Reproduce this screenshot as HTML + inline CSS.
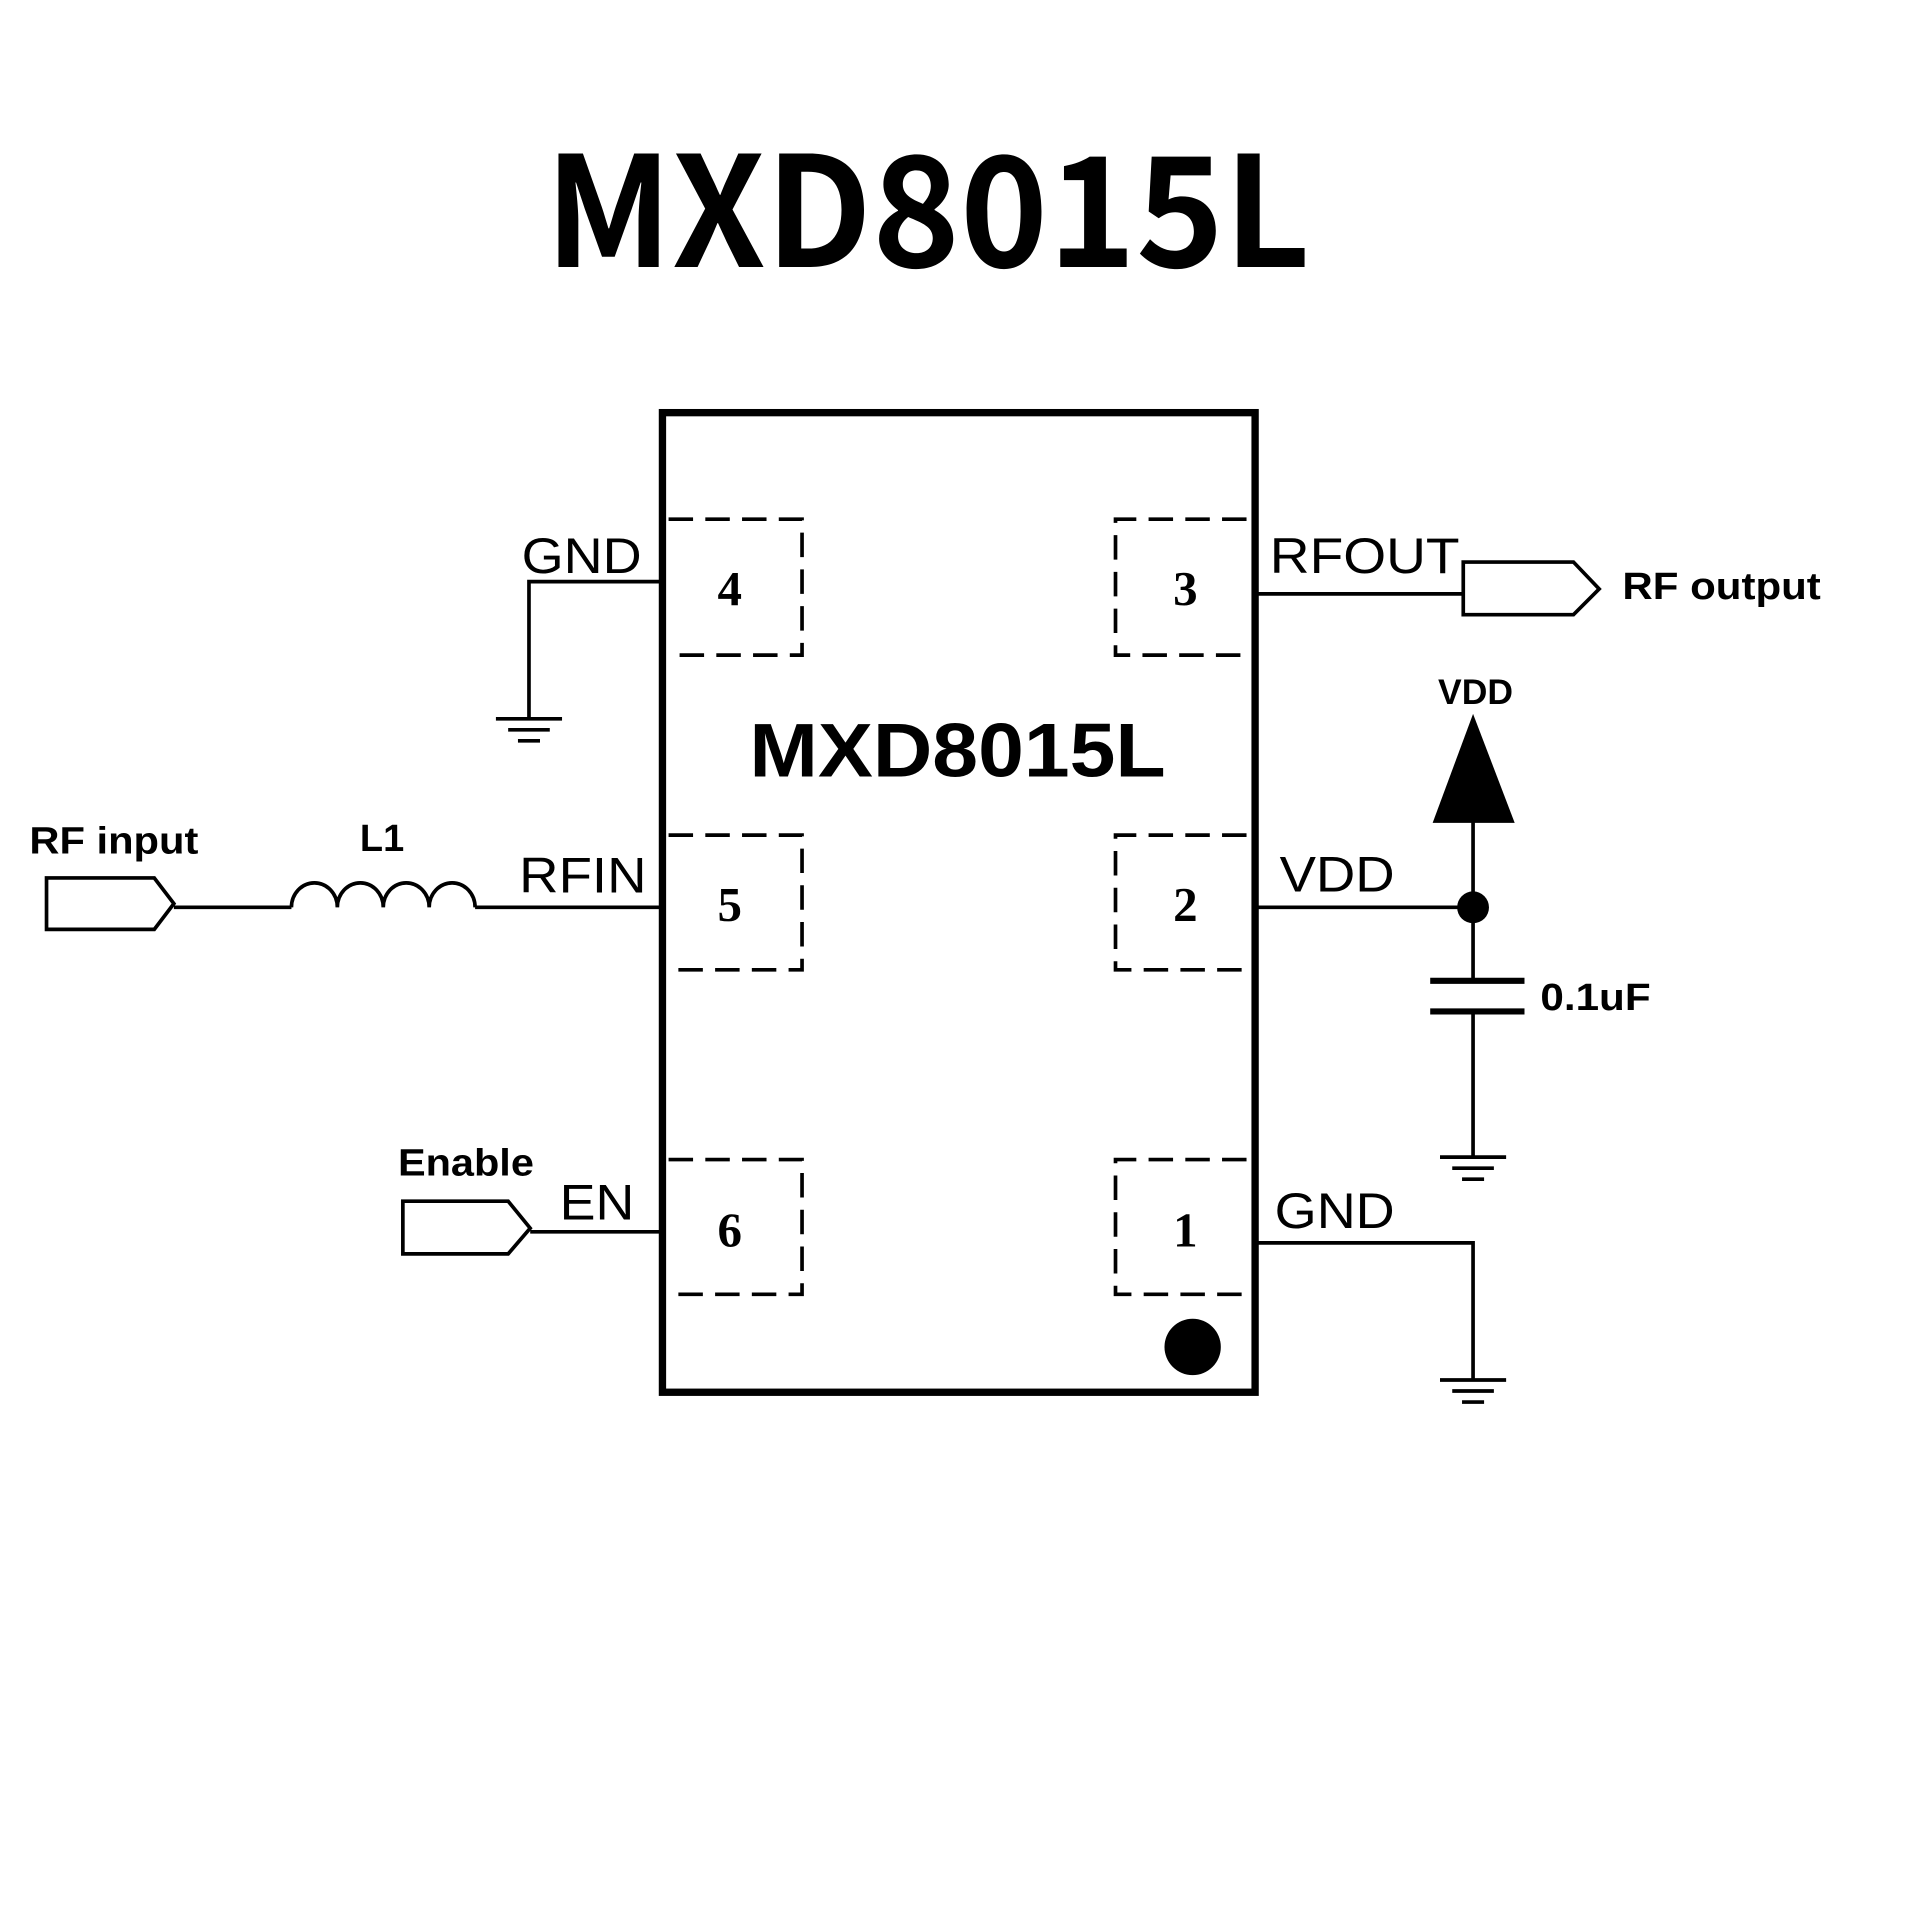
<!DOCTYPE html>
<html><head><meta charset="utf-8"><style>
html,body{margin:0;padding:0;background:#fff;}
svg{display:block;}
text{font-family:"Liberation Sans",Arial,sans-serif;fill:#000;}
</style></head><body>
<svg width="1920" height="1920" viewBox="0 0 1568 1568" xmlns="http://www.w3.org/2000/svg">
<rect width="1568" height="1568" fill="#fff"/>
<text x="445" y="218" font-size="125" font-weight="bold" textLength="625" lengthAdjust="spacingAndGlyphs" style="font-family:'Noto Sans CJK SC','Liberation Sans',sans-serif">MXD8015L</text>
<rect x="541" y="337" width="484" height="800" fill="none" stroke="#000" stroke-width="6"/>
<g fill="none" stroke="#000" stroke-width="3" stroke-dasharray="20,10">
<path d="M546 424H655V535H546"/>
<path d="M546 682H655V792H546"/>
<path d="M546 947H655V1057H546"/>
<path d="M1018 424H911V535H1018"/>
<path d="M1018 682H911V792H1018"/>
<path d="M1018 947H911V1057H1018"/>
</g>
<g font-size="40" font-weight="bold" text-anchor="middle">
<text x="596" y="494" style="font-family:'Liberation Serif',serif">4</text>
<text x="596" y="752" style="font-family:'Liberation Serif',serif">5</text>
<text x="596" y="1018" style="font-family:'Liberation Serif',serif">6</text>
<text x="968" y="494" style="font-family:'Liberation Serif',serif">3</text>
<text x="968" y="752" style="font-family:'Liberation Serif',serif">2</text>
<text x="968" y="1018" style="font-family:'Liberation Serif',serif">1</text>
</g>
<text x="612" y="634" font-size="62" font-weight="bold" textLength="340" lengthAdjust="spacingAndGlyphs">MXD8015L</text>
<circle cx="974" cy="1100" r="23" fill="#000"/>
<g fill="none" stroke="#000" stroke-width="3">
<path d="M541 475H432V587"/>
<path d="M405 587H459M415 596H449M423 605H441"/>
<path d="M142 741H238"/>
<path d="M238 741 a18.75 20 0 0 1 37.5 0 a18.75 20 0 0 1 37.5 0 a18.75 20 0 0 1 37.5 0 a18.75 20 0 0 1 37.5 0"/>
<path d="M388 741H541"/>
<polygon points="38,717 126,717 142,738 126,759 38,759"/>
<polygon points="329,981 415,981 433,1003 415,1024 329,1024"/>
<path d="M433 1006H541"/>
<path d="M1025 485H1195"/>
<polygon points="1195,459 1285,459 1306,481 1285,502 1195,502"/>
<path d="M1025 741H1203M1203 670V801M1203 826V945"/>
<path d="M1176 945H1230M1186 954H1220M1194 963H1212"/>
<path d="M1025 1015H1203V1127"/>
<path d="M1176 1127H1230M1186 1136H1220M1194 1145H1212"/>
</g>
<path d="M1168 801H1245M1168 826H1245" stroke="#000" stroke-width="5"/>
<polygon points="1203,583 1170,672 1237,672" fill="#000"/>
<circle cx="1203" cy="741" r="13" fill="#000"/>
<g font-size="41" lengthAdjust="spacingAndGlyphs">
<text x="426" y="468" textLength="98" lengthAdjust="spacingAndGlyphs">GND</text>
<text x="424" y="729" textLength="104" lengthAdjust="spacingAndGlyphs">RFIN</text>
<text x="457" y="996" textLength="61" lengthAdjust="spacingAndGlyphs">EN</text>
<text x="1037" y="468" textLength="155" lengthAdjust="spacingAndGlyphs">RFOUT</text>
<text x="1045" y="728" textLength="94" lengthAdjust="spacingAndGlyphs">VDD</text>
<text x="1041" y="1003" textLength="98" lengthAdjust="spacingAndGlyphs">GND</text>
</g>
<g font-size="31" font-weight="bold">
<text x="24" y="697" textLength="138" lengthAdjust="spacingAndGlyphs">RF input</text>
<text x="312" y="695" text-anchor="middle">L1</text>
<text x="325" y="960" textLength="111" lengthAdjust="spacingAndGlyphs">Enable</text>
<text x="1325" y="489" textLength="162" lengthAdjust="spacingAndGlyphs">RF output</text>
<text x="1205" y="575" text-anchor="middle" font-size="29">VDD</text>
<text x="1258" y="825" textLength="90" lengthAdjust="spacingAndGlyphs">0.1uF</text>
</g>
</svg>
</body></html>
